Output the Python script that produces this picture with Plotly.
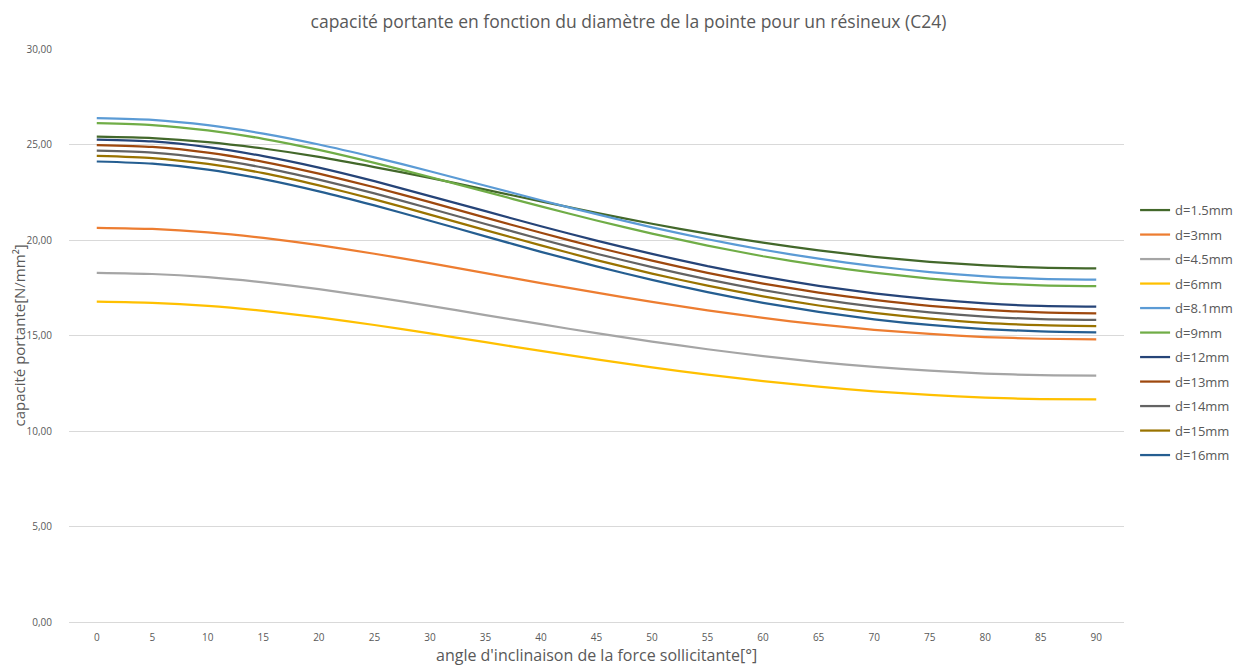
import plotly.graph_objects as go

# Angle of the applied force (degrees)
angles = [0, 5, 10, 15, 20, 25, 30, 35, 40, 45, 50, 55, 60, 65, 70, 75, 80, 85, 90]

# Bearing capacity [N/mm²] for each point diameter
d_1_5 = [25.41, 25.34, 25.13, 24.79, 24.35, 23.82, 23.25, 22.64, 22.02, 21.42,
         20.85, 20.33, 19.86, 19.46, 19.12, 18.86, 18.67, 18.55, 18.51]
d_3 = [20.64, 20.58, 20.40, 20.11, 19.73, 19.28, 18.79, 18.27, 17.74, 17.24,
       16.76, 16.32, 15.92, 15.58, 15.30, 15.08, 14.92, 14.83, 14.80]
d_4_5 = [18.28, 18.22, 18.05, 17.78, 17.43, 17.01, 16.55, 16.07, 15.59, 15.12,
         14.68, 14.28, 13.92, 13.61, 13.36, 13.16, 13.01, 12.92, 12.90]
d_6 = [16.77, 16.71, 16.55, 16.29, 15.95, 15.55, 15.11, 14.65, 14.19, 13.75,
       13.33, 12.95, 12.61, 12.32, 12.08, 11.89, 11.75, 11.67, 11.65]
d_8_1 = [26.38, 26.29, 26.01, 25.57, 25.00, 24.33, 23.60, 22.84, 22.08, 21.35,
         20.66, 20.04, 19.49, 19.02, 18.63, 18.32, 18.10, 17.97, 17.93]
d_9 = [26.12, 26.02, 25.74, 25.30, 24.72, 24.04, 23.30, 22.53, 21.76, 21.02,
       20.33, 19.71, 19.15, 18.68, 18.29, 17.98, 17.76, 17.63, 17.59]
d_12 = [25.26, 25.16, 24.86, 24.39, 23.79, 23.08, 22.30, 21.51, 20.72, 19.97,
        19.27, 18.63, 18.08, 17.60, 17.21, 16.90, 16.68, 16.55, 16.51]
d_13 = [24.97, 24.87, 24.57, 24.09, 23.47, 22.76, 21.98, 21.17, 20.38, 19.62,
        18.92, 18.28, 17.72, 17.25, 16.86, 16.55, 16.34, 16.21, 16.16]
d_14 = [24.68, 24.58, 24.27, 23.79, 23.16, 22.44, 21.65, 20.84, 20.04, 19.28,
        18.58, 17.94, 17.38, 16.90, 16.51, 16.21, 15.99, 15.86, 15.82]
d_15 = [24.40, 24.29, 23.98, 23.50, 22.86, 22.13, 21.33, 20.52, 19.72, 18.95,
        18.24, 17.61, 17.05, 16.57, 16.18, 15.88, 15.66, 15.54, 15.49]
d_16 = [24.11, 24.00, 23.69, 23.19, 22.55, 21.81, 21.01, 20.19, 19.38, 18.62,
        17.91, 17.27, 16.71, 16.24, 15.85, 15.55, 15.34, 15.21, 15.16]

series_names = ["d=1.5mm", "d=3mm", "d=4.5mm", "d=6mm", "d=8.1mm", "d=9mm",
                "d=12mm", "d=13mm", "d=14mm", "d=15mm", "d=16mm"]
series_values = [d_1_5, d_3, d_4_5, d_6, d_8_1, d_9, d_12, d_13, d_14, d_15, d_16]
series_colors = ["#43682B", "#ED7D31", "#A5A5A5", "#FFC000", "#5B9BD5", "#70AD47",
                 "#264478", "#9E480E", "#636363", "#997300", "#255E91"]

x_labels = [str(a) for a in angles]

TEXT = "#595959"
GRID = "#D9D9D9"
FONT = "Open Sans, Liberation Sans, sans-serif"

fig = go.Figure()
for name, vals, col in zip(series_names, series_values, series_colors):
    fig.add_trace(go.Scatter(
        x=x_labels, y=vals, name=name, mode="lines",
        line=dict(color=col, width=2.25, shape="spline", smoothing=0.6),
        legendgroup=name,
    ))

fig.update_layout(
    width=1257, height=670,
    paper_bgcolor="white", plot_bgcolor="white",
    margin=dict(l=69, r=133, t=49, b=48),
    separators=", ",
    font=dict(family=FONT, color=TEXT),
    title=dict(
        text="capacité portante en fonction du diamètre de la pointe pour un résineux (C24)",
        x=0.5, xref="container", xanchor="center",
        y=1 - 22 / 670, yref="container", yanchor="middle",
        font=dict(size=17.5, color=TEXT, family=FONT),
    ),
    xaxis=dict(
        type="category", range=[-0.5, 18.5],
        showgrid=False, zeroline=False,
        showline=True, linecolor=GRID, linewidth=1,
        ticks="", tickfont=dict(size=10, color=TEXT),
        ticklabelstandoff=6,
    ),
    yaxis=dict(
        range=[0, 30], dtick=5, tickformat=".2f",
        showgrid=True, gridcolor=GRID, gridwidth=1,
        zeroline=False, showline=False,
        ticks="", tickfont=dict(size=10, color=TEXT),
        ticklabelstandoff=16,
    ),
    legend=dict(
        x=1.0105, xanchor="left", y=0.745, yanchor="top",
        font=dict(size=13, color=TEXT, family=FONT),
        tracegroupgap=4.6, itemwidth=30,
        bgcolor="rgba(0,0,0,0)",
    ),
    annotations=[
        dict(text="angle d'inclinaison de la force sollicitante[°]",
             xref="paper", yref="paper", x=0.5, y=-33 / 573,
             xanchor="center", yanchor="middle", showarrow=False,
             font=dict(size=16, color=TEXT, family=FONT)),
        dict(text="capacité portante[N/mm²]",
             xref="paper", yref="paper", x=-51 / 1055, y=0.5,
             xanchor="center", yanchor="middle", showarrow=False,
             textangle=-90,
             font=dict(size=15, color=TEXT, family=FONT)),
    ],
)

fig.write_html("out.html")
